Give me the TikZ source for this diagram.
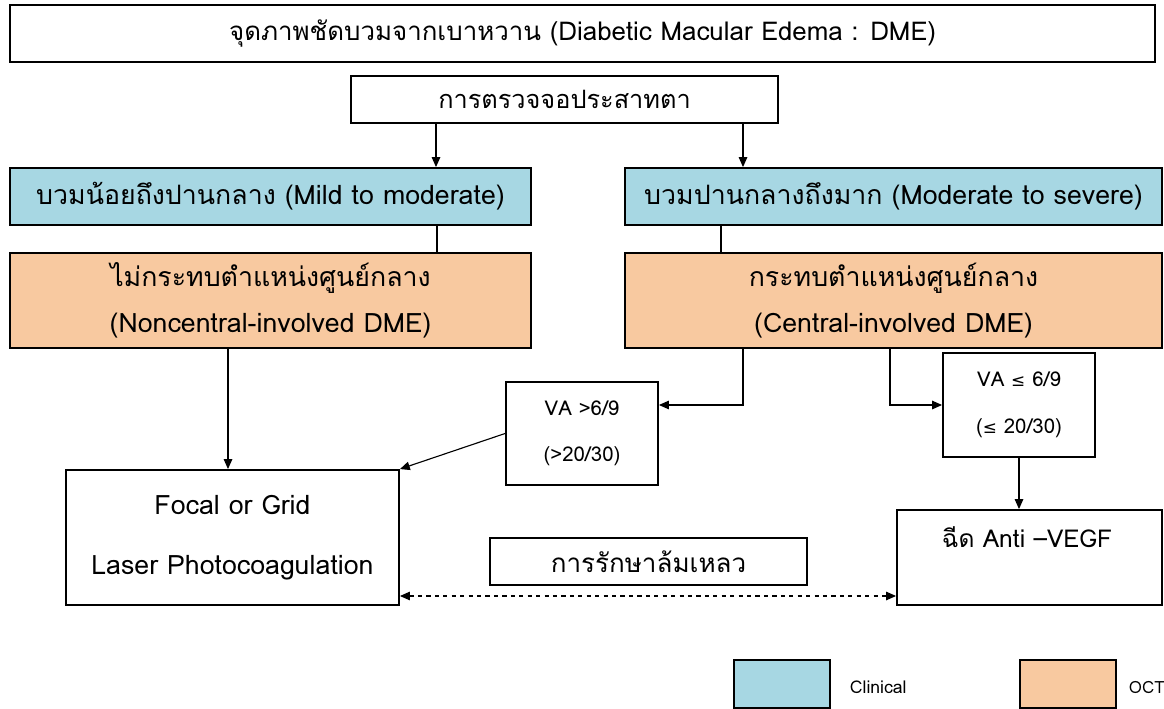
\documentclass[tikz,border=0pt]{standalone}
\usepackage{fontspec}
\setmainfont[Script=Thai]{Loma}
\newfontfamily\djv{DejaVu Sans}
\usetikzlibrary{arrows.meta}
\definecolor{clinblue}{HTML}{A7D7E3}
\definecolor{octorange}{HTML}{F8C9A0}
\begin{document}
\begin{tikzpicture}[x=0.025cm,y=-0.025cm,
  box/.style={draw=black,line width=1.3pt,inner sep=0pt,align=center},
  clin/.style={box,fill=clinblue},
  oct/.style={box,fill=octorange},
  arr/.style={line width=0.8pt,-{Triangle[length=7pt,width=6pt]}},
  plain/.style={line width=0.8pt},
  ttl/.style={font=\fontsize{18.4}{33}\selectfont},
  big/.style={font=\fontsize{19}{33}\selectfont},
  mid/.style={font=\fontsize{14.5}{33}\selectfont},
  small/.style={font=\fontsize{12.5}{14}\selectfont}]
\useasboundingbox (0,0) rectangle (1164,709);
\fill[white] (0,0) rectangle (1164,709);
% boxes
\node[box,ttl,minimum width=28.625cm,minimum height=1.425cm] (top) at (582.5,33.5) {จุดภาพชัดบวมจากเบาหวาน (Diabetic Macular Edema : DME)};
\node[box,font=\fontsize{18}{33}\selectfont,minimum width=10.675cm,minimum height=1.175cm] (exam) at (564.5,99.5) {การตรวจจอประสาทตา};
\node[clin,big,minimum width=13.025cm,minimum height=1.425cm] (blueL) at (270.5,196.5) {บวมน้อยถึงปานกลาง (Mild to moderate)};
\node[clin,big,minimum width=13.425cm,minimum height=1.425cm] (blueR) at (893.5,196.5) {บวมปานกลางถึงมาก (Moderate to severe)};
\node[oct,big,minimum width=13.025cm,minimum height=2.375cm] (orL) at (270.5,300.5) {ไม่กระทบตำแหน่งศูนย์กลาง\\(Noncentral-involved DME)};
\node[oct,big,minimum width=13.425cm,minimum height=2.375cm] (orR) at (893.5,300.5) {กระทบตำแหน่งศูนย์กลาง\\(Central-involved DME)};
\node[box,mid,minimum width=3.8cm,minimum height=2.575cm] (va1) at (582,433.5) {VA \textgreater6/9\\(\textgreater20/30)};
\node[box,mid,minimum width=3.8cm,minimum height=2.6cm] (va2) at (1019,405) {VA {\djv\fontsize{12}{12}\selectfont≤} 6/9\\({\djv\fontsize{12}{12}\selectfont≤} 20/30)};
\node[box,font=\fontsize{19}{43}\selectfont,minimum width=8.325cm,minimum height=3.375cm] (focal) at (232.5,537.5) {Focal or Grid\\Laser Photocoagulation};
\node[box,minimum width=6.625cm,minimum height=2.375cm] (anti) at (1029.5,557.5) {};
\node[font=\fontsize{17.5}{20}\selectfont,anchor=center] (antitxt) at (1027,537) {ฉีด Anti –VEGF};
\node[box,font=\fontsize{18.5}{33}\selectfont,minimum width=7.925cm,minimum height=1.175cm] (fail) at (648.5,561.5) {การรักษาล้มเหลว};
% legend
\node[clin,line width=1pt,minimum width=2.4cm,minimum height=1.2cm] (legC) at (782,684) {};
\node[small,anchor=west] (legCt) at (845,687) {Clinical};
\node[oct,line width=1pt,minimum width=2.4cm,minimum height=1.2cm] (legO) at (1068,684) {};
\node[font=\fontsize{12}{14}\selectfont,anchor=west] (legOt) at (1124,687) {OCT};
% helper coordinates
\coordinate (x436) at (436,0);
\coordinate (x743) at (743,0);
\coordinate (x437) at (437,0);
\coordinate (x721) at (721,0);
\coordinate (x228) at (228,0);
\coordinate (x890) at (890,0);
\coordinate (y405) at (0,405);
\coordinate (y596) at (0,596);
% connectors
\draw[arr] (exam.south -| x436) -- (blueL.north -| x436);
\draw[arr] (exam.south -| x743) -- (blueR.north -| x743);
\draw[plain] (blueL.south -| x437) -- (orL.north -| x437);
\draw[plain] (blueR.south -| x721) -- (orR.north -| x721);
\draw[arr] (orL.south -| x228) -- (focal.north -| x228);
\draw[arr] (orR.south -| x743) |- (va1.east |- y405);
\draw[arr] (orR.south -| x890) |- (va2.west);
\draw[arr] (va1.west) -- (focal.north east);
\draw[arr] (va2.south) -- (anti.north -| va2.south);
\draw[line width=0.8pt,dashed,{Triangle[length=7pt,width=6pt]}-{Triangle[length=7pt,width=6pt]}] (focal.east |- y596) -- (anti.west |- y596);
\end{tikzpicture}
\end{document}
